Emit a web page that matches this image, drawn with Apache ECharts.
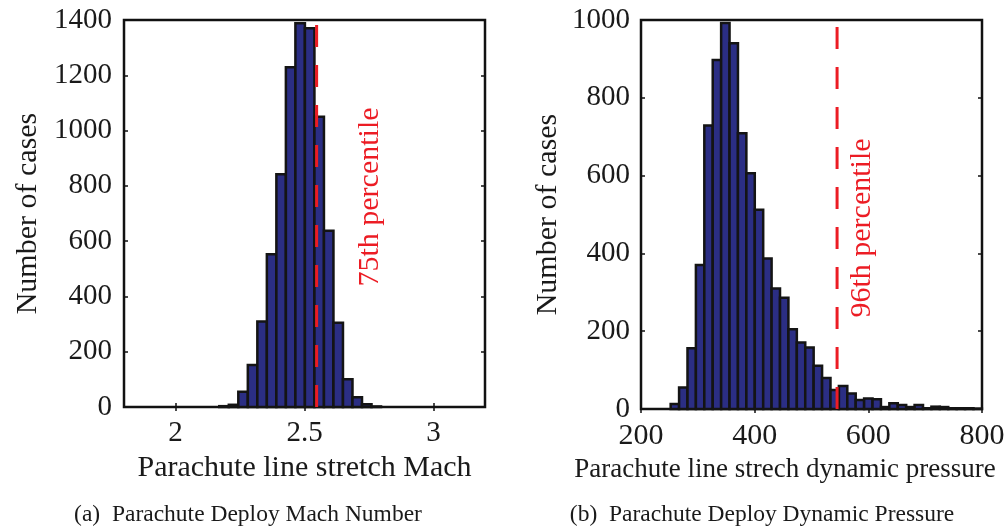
<!DOCTYPE html>
<html><head><meta charset="utf-8">
<script src="https://cdn.jsdelivr.net/npm/echarts@6/dist/echarts.min.js"></script>
<style>html,body{margin:0;padding:0;background:#fff}#c{width:1006px;height:529px}</style>
</head><body><div id="c"></div>
<script>
// ---- Data: (a) Mach number histogram ----
const machBinStart = 2.1695;
const machBinWidth = 0.0369;
const machCounts = [3, 8, 55, 152, 309, 553, 842, 1229, 1388, 1370, 1050, 638, 305, 100, 35, 10, 2];
const machPercentile75 = 2.547;
const machXTicks = [2, 2.5, 3];
const machYMax = 1400;

// ---- Data: (b) Dynamic pressure histogram ----
const qBinStart = 252.2;
const qBinWidth = 14.8;
const qCounts = [13, 55, 156, 370, 729, 897, 992, 940, 709, 606, 512, 387, 310, 286, 205, 171, 158, 111, 80,
                 49, 59, 40, 23, 27, 25, 5, 15, 10, 5, 10, 2, 6, 5, 2, 2, 2, 1];
const qPercentile96 = 545;
const qYMax = 1000;

// ---- Texts ----
const machXTitle = 'Parachute line stretch Mach';
const qXTitle = 'Parachute line strech dynamic pressure';
const yTitle = 'Number of cases';
const machNote = '75th percentile';
const qNote = '96th percentile';
const captionA = '(a)  Parachute Deploy Mach Number';
const captionB = '(b)  Parachute Deploy Dynamic Pressure';

function bins(start, width, counts) {
  return counts.map((c, i) => [start + i * width, start + (i + 1) * width, c]);
}

const FONT = '"Liberation Serif", "DejaVu Serif", serif';
const BAR_FILL = '#2b2e84';
const RED = '#ec1c24';

function renderHist(params, api) {
  const a = api.coord([api.value(0), api.value(2)]);
  const b = api.coord([api.value(1), 0]);
  return {
    type: 'rect',
    shape: { x: a[0], y: a[1], width: b[0] - a[0], height: b[1] - a[1] },
    style: { fill: BAR_FILL, stroke: '#141414', lineWidth: 2.5 }
  };
}

const plainNum = v => String(v);
const tickStyle = { show: true, inside: true, length: 4, lineStyle: { color: '#111', width: 1.5 } };
const labelStyle = { color: '#1a1a1a', fontFamily: FONT, fontSize: 29, formatter: plainNum };

const chart = echarts.init(document.getElementById('c'), null, { renderer: 'canvas' });
chart.setOption({
  animation: false,
  backgroundColor: '#fff',
  grid: [
    { left: 124, top: 20, width: 361, height: 387, show: true, borderColor: '#111', borderWidth: 2.5,
      backgroundColor: 'transparent', containLabel: false, outerBoundsMode: 'none' },
    { left: 641, top: 20, width: 341, height: 389, show: true, borderColor: '#111', borderWidth: 2.5,
      backgroundColor: 'transparent', containLabel: false, outerBoundsMode: 'none' }
  ],
  xAxis: [
    { gridIndex: 0, type: 'value', min: 1.8, max: 3.2,
      axisLine: { show: false }, splitLine: { show: false },
      axisTick: Object.assign({}, tickStyle, { customValues: machXTicks }),
      axisLabel: Object.assign({}, labelStyle, { margin: 12, customValues: machXTicks }),
      name: machXTitle, nameLocation: 'middle', nameGap: 46,
      nameTextStyle: { color: '#1a1a1a', fontFamily: FONT, fontSize: 30 } },
    { gridIndex: 0, type: 'value', min: 1.8, max: 3.2, position: 'top',
      axisLine: { show: false }, splitLine: { show: false }, axisLabel: { show: false },
      axisTick: Object.assign({}, tickStyle, { customValues: machXTicks }) },
    { gridIndex: 1, type: 'value', min: 200, max: 800, interval: 200,
      axisLine: { show: false }, splitLine: { show: false },
      axisTick: tickStyle,
      axisLabel: Object.assign({}, labelStyle, { margin: 12, fontSize: 30 }),
      name: qXTitle, nameLocation: 'middle', nameGap: 47,
      nameTextStyle: { color: '#1a1a1a', fontFamily: FONT, fontSize: 27, padding: [0, 53, 0, 0] } },
    { gridIndex: 1, type: 'value', min: 200, max: 800, interval: 200, position: 'top',
      axisLine: { show: false }, splitLine: { show: false }, axisLabel: { show: false },
      axisTick: tickStyle }
  ],
  yAxis: [
    { gridIndex: 0, type: 'value', min: 0, max: machYMax, interval: 200,
      axisLine: { show: false }, splitLine: { show: false },
      axisTick: tickStyle,
      axisLabel: Object.assign({}, labelStyle, { margin: 12 }),
      name: yTitle, nameLocation: 'middle', nameGap: 81,
      nameTextStyle: { color: '#1a1a1a', fontFamily: FONT, fontSize: 30 } },
    { gridIndex: 0, type: 'value', min: 0, max: machYMax, interval: 200, position: 'right',
      axisLine: { show: false }, splitLine: { show: false }, axisLabel: { show: false },
      axisTick: tickStyle },
    { gridIndex: 1, type: 'value', min: 0, max: qYMax, interval: 200,
      axisLine: { show: false }, splitLine: { show: false },
      axisTick: tickStyle,
      axisLabel: Object.assign({}, labelStyle, { margin: 11 }),
      name: yTitle, nameLocation: 'middle', nameGap: 78,
      nameTextStyle: { color: '#1a1a1a', fontFamily: FONT, fontSize: 30 } },
    { gridIndex: 1, type: 'value', min: 0, max: qYMax, interval: 200, position: 'right',
      axisLine: { show: false }, splitLine: { show: false }, axisLabel: { show: false },
      axisTick: tickStyle }
  ],
  series: [
    { type: 'custom', xAxisIndex: 0, yAxisIndex: 0, renderItem: renderHist,
      encode: { x: [0, 1], y: 2 }, data: bins(machBinStart, machBinWidth, machCounts), z: 2 },
    { type: 'line', xAxisIndex: 0, yAxisIndex: 0, symbol: 'none', z: 5,
      lineStyle: { color: RED, width: 3, type: [22, 18] },
      data: [[machPercentile75, 0], [machPercentile75, machYMax]] },
    { type: 'custom', xAxisIndex: 2, yAxisIndex: 2, renderItem: renderHist,
      encode: { x: [0, 1], y: 2 }, data: bins(qBinStart, qBinWidth, qCounts), z: 2 },
    { type: 'line', xAxisIndex: 2, yAxisIndex: 2, symbol: 'none', z: 5,
      lineStyle: { color: RED, width: 3, type: [22, 18] },
      data: [[qPercentile96, 0], [qPercentile96, qYMax]] }
  ],
  graphic: [
    { type: 'text', x: 370, y: 197, rotation: Math.PI / 2, z: 10,
      style: { text: machNote, fill: RED, font: '30px ' + FONT, align: 'center', verticalAlign: 'middle' } },
    { type: 'text', x: 862, y: 228, rotation: Math.PI / 2, z: 10,
      style: { text: qNote, fill: RED, font: '30px ' + FONT, align: 'center', verticalAlign: 'middle' } },
    { type: 'text', x: 248, y: 515,
      style: { text: captionA, fill: '#1a1a1a', font: '23.5px ' + FONT, align: 'center', verticalAlign: 'middle' } },
    { type: 'text', x: 762, y: 515,
      style: { text: captionB, fill: '#1a1a1a', font: '23.5px ' + FONT, align: 'center', verticalAlign: 'middle' } }
  ]
});
</script>
</body></html>
